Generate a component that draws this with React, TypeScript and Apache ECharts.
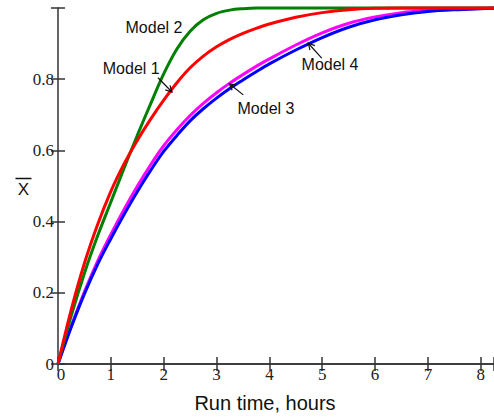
import React, { useEffect, useRef } from "react";
import * as echarts from "echarts";

// Run time, hours
const runTime = [0, 0.25, 0.5, 0.75, 1, 1.25, 1.5, 1.75, 2, 2.25, 2.5, 2.75, 3, 3.25, 3.5, 3.75, 4, 4.5, 5, 5.5, 6, 6.5, 7, 7.5, 8, 8.25];
// Model 1 (red)
const model1 = [0, 0.152, 0.283, 0.392, 0.485, 0.562, 0.628, 0.687, 0.741, 0.79, 0.832, 0.865, 0.891, 0.912, 0.929, 0.943, 0.955, 0.974, 0.987, 0.995, 0.999, 1, 1, 1, 1, 1];
// Model 2 (green)
const model2 = [0, 0.135, 0.255, 0.36, 0.455, 0.55, 0.642, 0.73, 0.815, 0.885, 0.935, 0.967, 0.985, 0.994, 0.998, 1, 1, 1, 1, 1, 1, 1, 1, 1, 1, 1];
// Model 3 (blue)
const model3 = [0, 0.103, 0.197, 0.28, 0.352, 0.42, 0.484, 0.543, 0.597, 0.642, 0.683, 0.717, 0.747, 0.774, 0.798, 0.821, 0.843, 0.882, 0.917, 0.946, 0.967, 0.981, 0.99, 0.995, 0.998, 0.999];
// Model 4 (magenta)
const model4 = [0, 0.106, 0.203, 0.289, 0.364, 0.434, 0.499, 0.559, 0.613, 0.658, 0.698, 0.732, 0.762, 0.789, 0.813, 0.836, 0.857, 0.896, 0.93, 0.957, 0.975, 0.987, 0.993, 0.997, 0.999, 1];

// Tick values and their labels
const xTicks = [0, 1, 2, 3, 4, 5, 6, 7, 8];
const xTickLabels = ["0", "1", "2", "3", "4", "5", "6", "7", "8"];
const yTicks = [0, 0.2, 0.4, 0.6, 0.8];
const yTickLabels = ["0", "0.2", "0.4", "0.6", "0.8"];

// Annotations in data coordinates: label centre, arrow start, arrow tip
const annotationNames = ["Model 1", "Model 2", "Model 3", "Model 4"];
const labelPos = [[1.386, 0.831], [1.816, 0.944], [3.935, 0.718], [5.147, 0.84]];
const arrowFrom = [[1.892, 0.804], [0, 0], [3.506, 0.756], [4.99, 0.859]];
const arrowTip = [[2.157, 0.764], [0, 0], [3.241, 0.787], [4.736, 0.901]];
const hasArrow = [1, 0, 1, 1];

const AXIS_COLOR = "#333";
const SERIF_FONT = "17px 'Times New Roman', 'Liberation Serif', serif";
const SANS = "Liberation Sans";

export default function App() {
  const ref = useRef<HTMLDivElement>(null);

  useEffect(() => {
    if (!ref.current) return;
    const chart = echarts.init(ref.current, undefined, { renderer: "svg" });

    const mk = (ys: number[]) => runTime.map((t, i) => [t, ys[i]]);

    const annData = annotationNames.map((n, i) => [
      labelPos[i][0], labelPos[i][1],
      arrowFrom[i][0], arrowFrom[i][1],
      arrowTip[i][0], arrowTip[i][1],
      hasArrow[i], i,
    ]);

    // [x, y, kind, index]; kind 0 = x tick label, 1 = y tick label
    const tickLabelData = [
      ...xTicks.map((v, i) => [v, 0, 0, i]),
      ...yTicks.map((v, i) => [0, v, 1, i]),
    ];

    const lineSeries = (name: string, data: number[], color: string, z: number) => ({
      type: "line",
      name,
      data: mk(data),
      showSymbol: false,
      smooth: 0.35,
      clip: false,
      z,
      lineStyle: { color, width: 3 },
      itemStyle: { color },
    });

    const axisLine = () => ({ show: true, lineStyle: { color: AXIS_COLOR, width: 1.5 } });
    const axisTick = () => ({ show: true, inside: true, length: 7, lineStyle: { color: AXIS_COLOR, width: 1.5 } });

    chart.setOption({
      animation: false,
      backgroundColor: "#fff",
      grid: { left: 58, top: 8, right: -1, bottom: 54 },
      xAxis: [
        {
          type: "value",
          min: 0,
          max: 8.25,
          interval: 1,
          position: "bottom",
          axisLine: axisLine(),
          axisTick: axisTick(),
          splitLine: { show: false },
          axisLabel: { show: false },
        },
        {
          type: "value",
          min: 0,
          max: 8.25,
          interval: 1,
          position: "top",
          axisLine: axisLine(),
          axisTick: axisTick(),
          splitLine: { show: false },
          axisLabel: { show: false },
        },
      ],
      yAxis: [
        {
          type: "value",
          min: 0,
          max: 1,
          interval: 0.2,
          position: "left",
          axisLine: axisLine(),
          axisTick: axisTick(),
          splitLine: { show: false },
          axisLabel: { show: false },
        },
        {
          type: "value",
          min: 0,
          max: 1,
          interval: 0.2,
          position: "right",
          axisLine: { show: false },
          axisTick: axisTick(),
          splitLine: { show: false },
          axisLabel: { show: false },
        },
      ],
      graphic: [
        {
          type: "text",
          x: 265,
          y: 403,
          style: {
            text: "Run time, hours",
            fontFamily: SANS,
            fontSize: 20,
            fill: "#111",
            align: "center",
            verticalAlign: "middle",
          },
        },
        {
          type: "text",
          x: 23.5,
          y: 189,
          style: {
            text: "X",
            fontFamily: SANS,
            fontSize: 17,
            fill: "#111",
            align: "center",
            verticalAlign: "middle",
          },
        },
        {
          type: "line",
          shape: { x1: 15.5, y1: 178.5, x2: 31.5, y2: 178.5 },
          style: { stroke: "#111", lineWidth: 1.5 },
        },
      ],
      series: [
        lineSeries("Model 4", model4, "#ff00ff", 2),
        lineSeries("Model 3", model3, "#0000ff", 3),
        lineSeries("Model 2", model2, "#008000", 4),
        lineSeries("Model 1", model1, "#ff0000", 5),
        {
          type: "custom",
          coordinateSystem: "cartesian2d",
          silent: true,
          clip: false,
          z: 10,
          encode: { x: 0, y: 1 },
          data: tickLabelData,
          renderItem: (params: any, api: any) => {
            const p = api.coord([api.value(0), api.value(1)]);
            const kind = api.value(2);
            const idx = api.value(3);
            if (kind === 0) {
              return {
                type: "text",
                x: p[0] + (idx === 0 ? 3 : 0),
                y: p[1] + 2,
                style: {
                  text: xTickLabels[idx],
                  font: SERIF_FONT,
                  fill: "#222",
                  align: "center",
                  verticalAlign: "top",
                },
              };
            }
            return {
              type: "text",
              x: p[0] - 4,
              y: p[1],
              style: {
                text: yTickLabels[idx],
                font: SERIF_FONT,
                fill: "#222",
                align: "right",
                verticalAlign: "middle",
              },
            };
          },
        },
        {
          type: "custom",
          coordinateSystem: "cartesian2d",
          silent: true,
          clip: false,
          z: 10,
          encode: { x: 0, y: 1 },
          data: annData,
          renderItem: (params: any, api: any) => {
            const i = api.value(7);
            const lp = api.coord([api.value(0), api.value(1)]);
            const children: any[] = [
              {
                type: "text",
                x: lp[0],
                y: lp[1],
                style: {
                  text: annotationNames[i],
                  fontFamily: SANS,
                  fontSize: 16,
                  fill: "#111",
                  align: "center",
                  verticalAlign: "middle",
                },
              },
            ];
            if (api.value(6) === 1) {
              const f = api.coord([api.value(2), api.value(3)]);
              const t = api.coord([api.value(4), api.value(5)]);
              const dx = t[0] - f[0];
              const dy = t[1] - f[1];
              const len = Math.sqrt(dx * dx + dy * dy) || 1;
              const ux = dx / len;
              const uy = dy / len;
              const hl = 7;
              const ang = (28 * Math.PI) / 180;
              const rot = (a: number) => [
                ux * Math.cos(a) - uy * Math.sin(a),
                ux * Math.sin(a) + uy * Math.cos(a),
              ];
              const r1 = rot(ang);
              const r2 = rot(-ang);
              children.push({
                type: "line",
                shape: { x1: f[0], y1: f[1], x2: t[0], y2: t[1] },
                style: { stroke: "#111", lineWidth: 1.2 },
              });
              children.push({
                type: "polyline",
                shape: {
                  points: [
                    [t[0] - hl * r1[0], t[1] - hl * r1[1]],
                    [t[0], t[1]],
                    [t[0] - hl * r2[0], t[1] - hl * r2[1]],
                  ],
                },
                style: { stroke: "#111", lineWidth: 1.2, fill: "none" },
              });
            }
            return { type: "group", children };
          },
        },
      ],
    });

    return () => chart.dispose();
  }, []);

  return (
    <div
      ref={ref}
      style={{ position: "fixed", left: 0, top: 0, width: 494, height: 418 }}
    />
  );
}
